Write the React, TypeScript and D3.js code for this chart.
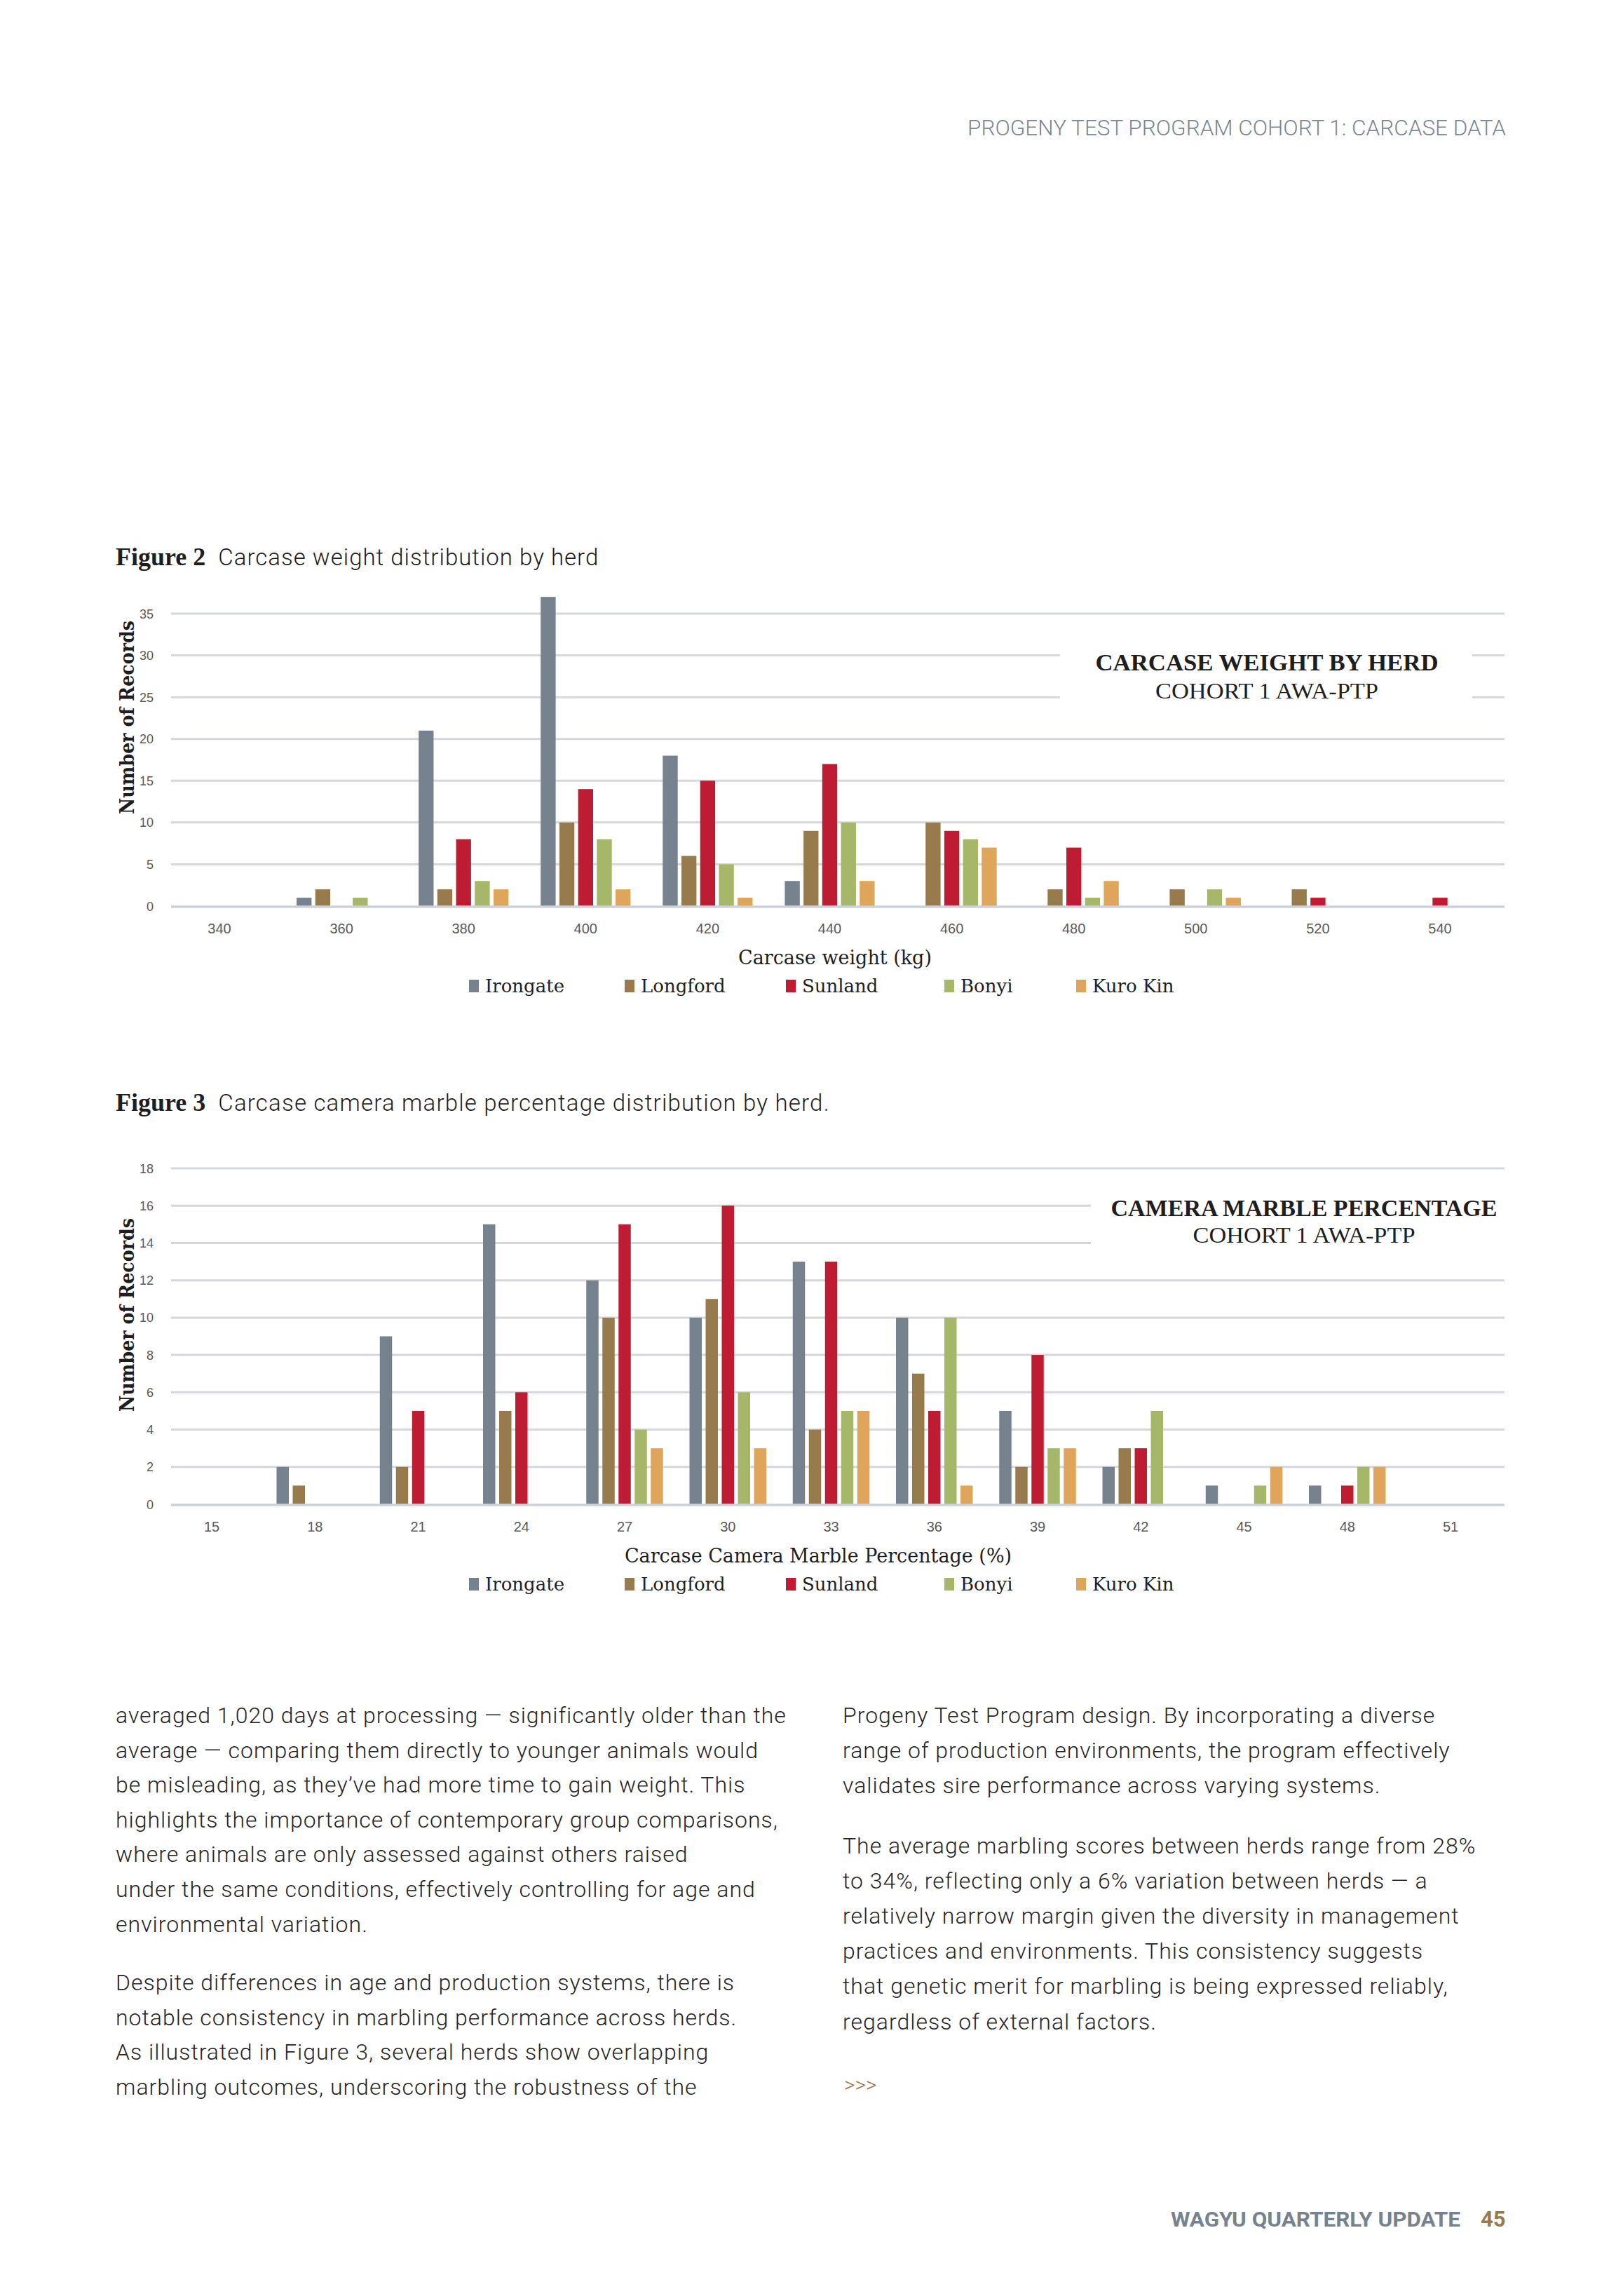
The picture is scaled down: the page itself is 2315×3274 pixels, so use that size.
import React from 'react'
import * as d3 from 'd3'

// herds, in legend/bar order
const herdNames = ['Irongate', 'Longford', 'Sunland', 'Bonyi', 'Kuro Kin']
const herdColors = ['#76838F', '#977B4C', '#BE1C32', '#A6B76A', '#DFA55B']

// Figure 2: carcase weight bins (kg)
const weightBins = [340, 360, 380, 400, 420, 440, 460, 480, 500, 520, 540]
const weightIrongate = [0, 1, 21, 37, 18, 3, 0, 0, 0, 0, 0]
const weightLongford = [0, 2, 2, 10, 6, 9, 10, 2, 2, 2, 0]
const weightSunland = [0, 0, 8, 14, 15, 17, 9, 7, 0, 1, 1]
const weightBonyi = [0, 1, 3, 8, 5, 10, 8, 1, 2, 0, 0]
const weightKuroKin = [0, 0, 2, 2, 1, 3, 7, 3, 1, 0, 0]
const weightTicks = [0, 5, 10, 15, 20, 25, 30, 35]

// Figure 3: camera marble percentage bins
const marbleBins = [15, 18, 21, 24, 27, 30, 33, 36, 39, 42, 45, 48, 51]
const marbleIrongate = [0, 2, 9, 15, 12, 10, 13, 10, 5, 2, 1, 1, 0]
const marbleLongford = [0, 1, 2, 5, 10, 11, 4, 7, 2, 3, 0, 0, 0]
const marbleSunland = [0, 0, 5, 6, 15, 16, 13, 5, 8, 3, 0, 1, 0]
const marbleBonyi = [0, 0, 0, 0, 4, 6, 5, 10, 3, 5, 1, 2, 0]
const marbleKuroKin = [0, 0, 0, 0, 3, 3, 5, 1, 3, 0, 2, 2, 0]
const marbleTicks = [0, 2, 4, 6, 8, 10, 12, 14, 16, 18]

const leftColumn = [
  [
    'averaged 1,020 days at processing \u2014 significantly older than the',
    'average \u2014 comparing them directly to younger animals would',
    'be misleading, as they\u2019ve had more time to gain weight. This',
    'highlights the importance of contemporary group comparisons,',
    'where animals are only assessed against others raised',
    'under the same conditions, effectively controlling for age and',
    'environmental variation.',
  ],
  [
    'Despite differences in age and production systems, there is',
    'notable consistency in marbling performance across herds.',
    'As illustrated in Figure 3, several herds show overlapping',
    'marbling outcomes, underscoring the robustness of the',
  ],
]
const rightColumn = [
  [
    'Progeny Test Program design. By incorporating a diverse',
    'range of production environments, the program effectively',
    'validates sire performance across varying systems.',
  ],
  [
    'The average marbling scores between herds range from 28%',
    'to 34%, reflecting only a 6% variation between herds \u2014 a',
    'relatively narrow margin given the diversity in management',
    'practices and environments. This consistency suggests',
    'that genetic merit for marbling is being expressed reliably,',
    'regardless of external factors.',
  ],
]

const SERIF = "'DejaVu Serif', serif"
const TIMES = "'Liberation Serif', serif"
const SANS = "Roboto, 'Liberation Sans', sans-serif"
const TICK = "'Liberation Sans', Arial, sans-serif"

const gridLeft = 244
const gridRight = 2146
const legendX = [669, 891, 1121, 1347, 1535]

interface ChartProps {
  bins: number[]
  series: number[][]
  ticks: number[]
  xRange: [number, number]
  yRange: [number, number]
  pitch: number
  fill: number
  xTitle: string
  xTitleX: number
  title: string
  titleLen: number
  subtitleLen: number
  box: { x0: number; x1: number; y0: number; y1: number; cx: number; ty: number; sy: number }
  yTitleY: number
}

const Chart: React.FC<ChartProps> = ({
  bins, series, ticks, xRange, yRange, pitch, fill, xTitle, xTitleX, title, titleLen, subtitleLen, box, yTitleY,
}) => {
  const x = d3.scaleLinear().domain([bins[0], bins[bins.length - 1]]).range(xRange)
  const y = d3.scaleLinear().domain([0, ticks[ticks.length - 1]]).range(yRange)
  const inner = d3
    .scaleBand<string>()
    .domain(herdNames)
    .range([-2.5 * pitch, 2.5 * pitch])
    .paddingInner(1 - fill)
    .paddingOuter((1 - fill) / 2)
  const y0 = y(0)

  return (
    <g>
      {/* gridlines */}
      {ticks.filter(t => t > 0).map(t => (
        <line key={t} x1={gridLeft} x2={gridRight} y1={y(t)} y2={y(t)} stroke="#D6D7DB" strokeWidth={3} />
      ))}
      {ticks.map(t => (
        <text key={'l' + t} x={219} y={y(t) + 6.5} textAnchor="end" fontFamily={TICK} fontSize={18} fill="#5A5A5A">
          {t}
        </text>
      ))}

      {/* title panel */}
      <rect x={box.x0} y={box.y0} width={box.x1 - box.x0} height={box.y1 - box.y0} fill="#fff" />
      <text x={box.cx} y={box.ty} textAnchor="middle" fontFamily={TIMES} fontWeight={700} fontSize={33}
        fill="#1E1E22" textLength={titleLen} lengthAdjust="spacingAndGlyphs">
        {title}
      </text>
      <text x={box.cx} y={box.sy} textAnchor="middle" fontFamily={TIMES} fontSize={31}
        fill="#1E1E22" textLength={subtitleLen} lengthAdjust="spacingAndGlyphs">
        COHORT 1 AWA-PTP
      </text>

      {/* bars */}
      {series.map((vals, s) => (
        <g key={herdNames[s]} fill={herdColors[s]}>
          {vals.map((v, i) =>
            v > 0 ? (
              <rect key={i} x={x(bins[i]) + (inner(herdNames[s]) as number)} y={y(v)}
                width={inner.bandwidth()} height={y0 - y(v)} />
            ) : null
          )}
        </g>
      ))}
      <line x1={gridLeft} x2={gridRight} y1={y0 + 1} y2={y0 + 1} stroke="#CDD1DA" strokeWidth={3.5} />

      {/* x axis */}
      {bins.map(b => (
        <text key={'x' + b} x={x(b)} y={y0 + 39} textAnchor="middle" fontFamily={TICK} fontSize={20} fill="#5A5A5A">
          {b}
        </text>
      ))}
      <text x={xTitleX} y={y0 + 83} textAnchor="middle" fontFamily={SERIF} fontSize={27} fill="#1E1E22">
        {xTitle}
      </text>

      {/* y title */}
      <text transform={`translate(191,${yTitleY}) rotate(-90)`} textAnchor="middle" fontFamily={SERIF}
        fontWeight={700} fontSize={27} fill="#1E1E22" textLength={276} lengthAdjust="spacingAndGlyphs">
        Number of Records
      </text>

      {/* legend */}
      {herdNames.map((h, i) => (
        <g key={'lg' + h}>
          <rect x={legendX[i]} y={y0 + 105} width={14} height={18} fill={herdColors[i]} />
          <text x={legendX[i] + 23} y={y0 + 123} fontFamily={SERIF} fontSize={26} fill="#1E1E22">
            {h}
          </text>
        </g>
      ))}
    </g>
  )
}

const Paragraphs: React.FC<{ paras: string[][]; x: number; y: number; lh: number; gap: number }> = ({ paras, x, y, lh, gap }) => {
  let cy = y
  const out: React.ReactNode[] = []
  paras.forEach((p, pi) => {
    p.forEach((line, li) => {
      out.push(
        <text key={pi + '-' + li} x={x} y={cy} fontFamily={SANS} fontWeight={300} fontSize={32}
          letterSpacing={1} fill="#262626">
          {line}
        </text>
      )
      cy += lh
    })
    cy += gap
  })
  return <g>{out}</g>
}

export default function App() {
  return (
    <div style={{ position: 'absolute', left: 0, top: 0, background: '#fff' }}>
      <svg width={2315} height={3274} viewBox="0 0 2315 3274" style={{ display: 'block' }}>
        <rect width={2315} height={3274} fill="#fff" />

        <text x={2148} y={193} textAnchor="end" fontFamily={SANS} fontWeight={300} fontSize={31}
          fill="#7B8691" textLength={768} lengthAdjust="spacingAndGlyphs">
          PROGENY TEST PROGRAM COHORT 1: CARCASE DATA
        </text>

        {/* Figure 2 */}
        <text x={165} y={806} fill="#1E1E22">
          <tspan fontFamily={TIMES} fontWeight={700} fontSize={36}>Figure 2</tspan>
          <tspan dx={18} fontFamily={SANS} fontWeight={300} fontSize={33} letterSpacing={1}>Carcase weight distribution by herd</tspan>
        </text>
        <Chart
          bins={weightBins}
          series={[weightIrongate, weightLongford, weightSunland, weightBonyi, weightKuroKin]}
          ticks={weightTicks}
          xRange={[313, 2054]}
          yRange={[1292, 875]}
          pitch={26.7}
          fill={0.8}
          xTitle="Carcase weight (kg)"
          xTitleX={1191}
          title="CARCASE WEIGHT BY HERD"
          titleLen={489}
          subtitleLen={318}
          box={{ x0: 1512, x1: 2100, y0: 915, y1: 1012, cx: 1807, ty: 956, sy: 996 }}
          yTitleY={1023}
        />

        {/* Figure 3 */}
        <text x={165} y={1584} fill="#1E1E22">
          <tspan fontFamily={TIMES} fontWeight={700} fontSize={36}>Figure 3</tspan>
          <tspan dx={18} fontFamily={SANS} fontWeight={300} fontSize={33} letterSpacing={1.2}>Carcase camera marble percentage distribution by herd.</tspan>
        </text>
        <Chart
          bins={marbleBins}
          series={[marbleIrongate, marbleLongford, marbleSunland, marbleBonyi, marbleKuroKin]}
          ticks={marbleTicks}
          xRange={[302, 2069]}
          yRange={[2145, 1666]}
          pitch={23}
          fill={0.76}
          xTitle="Carcase Camera Marble Percentage (%)"
          xTitleX={1167}
          title="CAMERA MARBLE PERCENTAGE"
          titleLen={551}
          subtitleLen={317}
          box={{ x0: 1556, x1: 2170, y0: 1700, y1: 1790, cx: 1860, ty: 1734, sy: 1772 }}
          yTitleY={1875}
        />

        {/* body copy */}
        <Paragraphs paras={leftColumn} x={165} y={2457} lh={49.6} gap={34} />
        <Paragraphs paras={rightColumn} x={1202} y={2457} lh={50.2} gap={35} />
        <text x={1204} y={2983} fontFamily={SANS} fontWeight={300} fontSize={30} fill="#977B4C">&gt;&gt;&gt;</text>

        {/* footer */}
        <text x={2083} y={3175} textAnchor="end" fontFamily={SANS} fontWeight={700} fontSize={30}
          fill="#76838F" textLength={413} lengthAdjust="spacingAndGlyphs">
          WAGYU QUARTERLY UPDATE
        </text>
        <text x={2112} y={3175} fontFamily={SANS} fontWeight={700} fontSize={31} fill="#977B4C">45</text>
      </svg>
    </div>
  )
}
